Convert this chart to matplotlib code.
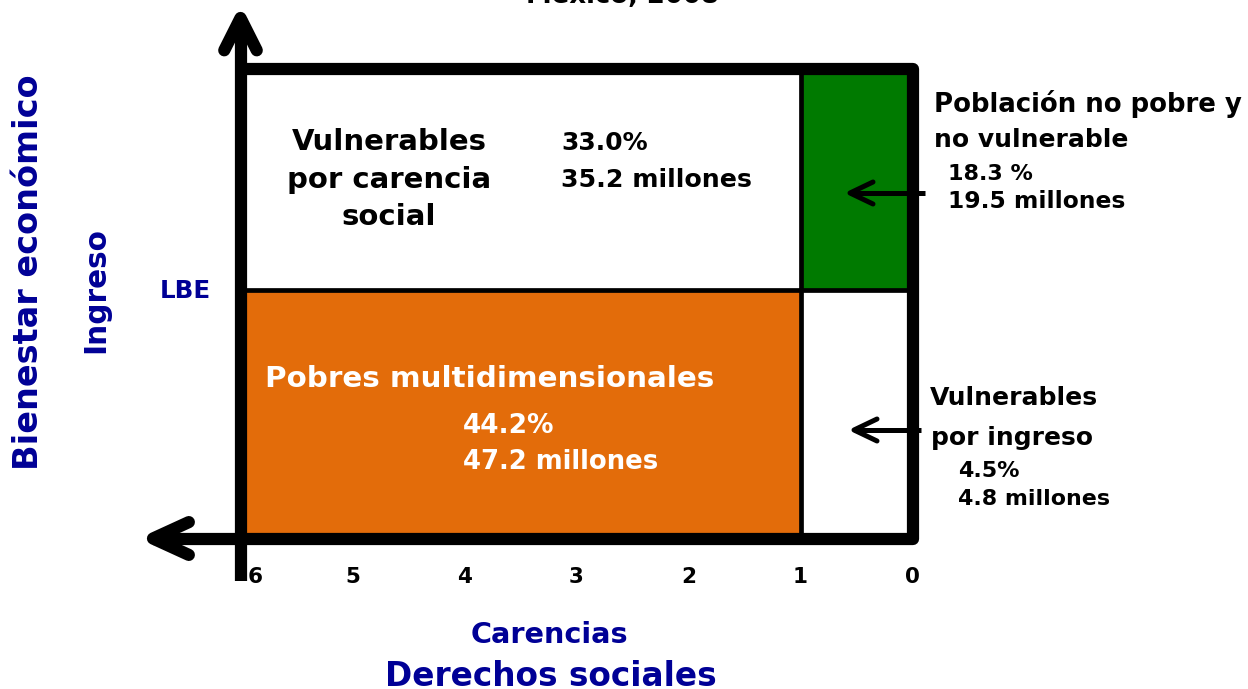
import matplotlib
matplotlib.use("Agg")
import matplotlib.pyplot as plt
from matplotlib.patches import Rectangle
from matplotlib.transforms import Affine2D

# ---------------- data ----------------
carencias_ticks = [6, 5, 4, 3, 2, 1, 0]
umbral_carencias = 1          # threshold of social deprivations
lbe = 1.0                     # Línea de Bienestar Económico (income line)
ingreso_max = 1.89            # top of the income axis (conceptual)
carencias_max = 6

categorias = ["Pobres multidimensionales",
              "Vulnerables por carencia social",
              "Vulnerables por ingreso",
              "Población no pobre y no vulnerable"]
porcentajes = [44.2, 33.0, 4.5, 18.3]
millones = [47.2, 35.2, 4.8, 19.5]

titulo = "México, 2008"
eje_y = ["Bienestar económico", "Ingreso"]
eje_x = ["Carencias", "Derechos sociales"]

ORANGE = "#E36C0A"
GREEN = "#007A00"
NAVY = "#000096"
FONT = "DejaVu Sans"

W, H = 1248, 689
fig = plt.figure(figsize=(W / 100, H / 100), dpi=100)
ax = fig.add_axes([0, 0, 1, 1])
ax.axis("off")
# x: number of deprivations (reversed), y: income
ax.set_xlim(912.5 / 112, (912.5 - W) / 112)
ax.set_ylim((538.5 - H) / 248.5, 538.5 / 248.5)

px = Affine2D().scale(1 / W, -1 / H).translate(0, 1) + fig.transFigure

# ---------------- regions ----------------
ax.add_patch(Rectangle((umbral_carencias, 0), carencias_max - umbral_carencias, lbe,
                       facecolor=ORANGE, edgecolor="none", zorder=1))
ax.add_patch(Rectangle((0, lbe), umbral_carencias, ingreso_max - lbe,
                       facecolor=GREEN, edgecolor="none", zorder=1))

# inner dividers
thin = 3.4
ax.plot([umbral_carencias, umbral_carencias], [0, ingreso_max], color="black", lw=thin, zorder=2)
ax.plot([0, carencias_max], [lbe, lbe], color="black", lw=thin, zorder=2)

# outer frame
thick = 8.8
ax.plot([carencias_max, 0, 0, carencias_max], [ingreso_max, ingreso_max, 0, 0],
        color="black", lw=thick, solid_joinstyle="round", solid_capstyle="butt", zorder=3)

# axes with arrows
y_tip = (538.5 - 18) / 248.5
y_low = (538.5 - 581) / 248.5
x_tip = (912.5 - 153) / 112
ax.plot([carencias_max, carencias_max], [y_low, y_tip], color="black", lw=thick,
        solid_capstyle="butt", zorder=3)
ax.plot([carencias_max - 0.05, x_tip], [0, 0], color="black", lw=thick,
        solid_capstyle="butt", zorder=3)
# arrow heads (chevrons)
ax.plot([carencias_max - 0.145, carencias_max, carencias_max + 0.145],
        [y_tip - 0.13, y_tip, y_tip - 0.13], color="black", lw=thick,
        solid_capstyle="round", solid_joinstyle="round", zorder=3)
ax.plot([x_tip - 0.32, x_tip, x_tip - 0.32], [0.066, 0, -0.066], color="black", lw=thick,
        solid_capstyle="round", solid_joinstyle="round", zorder=3)

# small pointer arrows on the right
def pointer(x_start_px, x_tip_px, y_px):
    xs = (912.5 - x_start_px) / 112
    xt = (912.5 - x_tip_px) / 112
    y = (538.5 - y_px) / 248.5
    ax.plot([xs, xt], [y, y], color="black", lw=3.6, solid_capstyle="butt", zorder=4)
    ax.plot([xt - 23 / 112, xt, xt - 23 / 112], [y + 11 / 248.5, y, y - 11 / 248.5],
            color="black", lw=3.6, solid_capstyle="round", solid_joinstyle="round", zorder=4)

pointer(925, 850, 193)
pointer(921, 854, 430)

# ---------------- texts ----------------
fits = []

def txt(x, y, s, target, dim="w", color="black", ha="left", va="baseline", rot=0, size=20):
    t = fig.text(x, y, s, transform=px, ha=ha, va=va, rotation=rot, color=color,
                 fontsize=size, fontweight="bold", family=FONT, zorder=5)
    fits.append((t, target, dim))
    return t

# title (cut at the top)
txt(623, 3, titulo, 193, ha="center")

# left axis labels
txt(29, 272, eje_y[0], 395, dim="h", color=NAVY, ha="center", va="center", rot=90)
txt(96, 290, eje_y[1], 126, dim="h", color=NAVY, ha="center", va="center", rot=90)
txt(185, 291, "LBE", 51, color=NAVY, ha="center", va="center")

# bottom axis labels
txt(549, 643, eje_x[0], 158, color=NAVY, ha="center")
txt(551, 686, eje_x[1], 332, color=NAVY, ha="center")

# ticks
tick_px = [255 if c == carencias_max else 912.5 - 112 * c for c in carencias_ticks]
for c, xp in zip(carencias_ticks, tick_px):
    txt(xp, 583, str(c), None, ha="center", size=15.5)

# region labels
# Vulnerables por carencia social
for s, yb in zip(["Vulnerables", "por carencia", "social"], [150, 188, 225]):
    txt(389, yb, s, None, ha="center", size=21)
txt(561, 150, f"{porcentajes[1]:.1f}%", None, size=18)
txt(561, 187, f"{millones[1]:.1f} millones", 191, size=18)

# Pobres multidimensionales
txt(265, 387, categorias[0], 450, color="white")
txt(463, 433, f"{porcentajes[0]:.1f}%", None, color="white", size=19)
txt(463, 469, f"{millones[0]:.1f} millones", 196, color="white", size=19)

# Población no pobre y no vulnerable
txt(934, 112, "Población no pobre y", 309)
txt(934, 147, "no vulnerable", None, size=18)
txt(948, 180, f"{porcentajes[3]:.1f} %", None, size=16)
txt(948, 208, f"{millones[3]:.1f} millones", 177)

# Vulnerables por ingreso
txt(930, 405, "Vulnerables", 168)
txt(931, 445, "por ingreso", None, size=18)
txt(958, 477, f"{porcentajes[2]:.1f}%", None, size=16)
txt(958, 505, f"{millones[2]:.1f} millones", 152)

# fit sizes
fig.canvas.draw()
r = fig.canvas.get_renderer()
for t, target, dim in fits:
    if target is None:
        continue
    bb = t.get_window_extent(r)
    cur = bb.width if dim == "w" else bb.height
    t.set_fontsize(t.get_fontsize() * target / cur)

fig.savefig("out.png", dpi=100)
